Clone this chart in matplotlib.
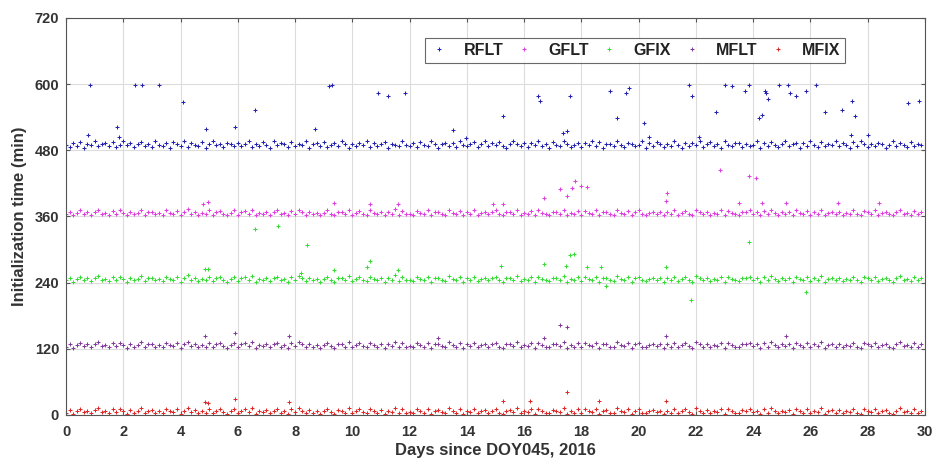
import numpy as np
import matplotlib
matplotlib.use("Agg")
import matplotlib.pyplot as plt

plt.rcParams['font.family'] = ['Liberation Sans', 'DejaVu Sans']

# ---------------- data ----------------
series_names = ["RFLT", "GFLT", "GFIX", "MFLT", "MFIX"]
display_offsets = [480, 360, 240, 120, 0]          # minutes added for display
samples_per_day = 8

# baseline initialisation times (min), RFLT
base_R = [
    10,6,13,8,15,5,11,9,16,7,12,14,8,15,6,10,17,9,13,6,11,15,8,12,
    6,16,10,8,13,4,15,11,7,17,6,13,10,8,15,5,12,16,9,11,6,14,12,8,
    13,7,11,16,6,12,8,15,10,5,17,9,13,11,6,15,8,12,10,16,5,11,13,7,
    15,6,10,13,8,16,11,5,12,7,14,10,17,6,13,8,11,15,5,12,10,7,16,9,
    8,13,6,15,10,7,16,12,5,11,14,8,13,6,17,10,7,12,15,6,11,16,8,13,
    10,15,7,5,12,16,11,8,14,6,13,10,17,7,12,5,15,9,8,16,12,6,10,14,
    6,13,10,16,7,15,5,11,12,8,17,10,6,14,12,7,10,16,5,13,8,15,11,6,
    12,7,16,10,5,14,8,13,10,17,6,11,15,7,12,5,16,10,8,13,14,6,11,7,
    10,16,5,13,8,15,10,6,12,16,7,11,14,5,13,8,17,10,6,15,8,12,10,16,
    7,13,10,5,15,8,16,12,6,11,7,14,12,5,10,16,8,13,10,6,15,7,12,10,
]
# baseline initialisation times (min), GPS / multi-GNSS solutions
base_GM = [
    4,9,2,7,11,5,8,3,9,12,5,7,3,10,5,11,7,2,9,4,7,12,3,8,
    9,4,7,3,11,7,5,10,2,8,13,5,9,3,7,4,11,3,8,10,5,2,7,11,
    3,8,10,5,12,2,7,5,9,3,8,11,4,7,2,10,5,12,8,3,9,4,7,2,
    7,11,5,2,9,8,4,12,3,7,10,5,3,11,7,4,9,2,8,5,13,3,10,4,
    5,3,10,7,4,11,2,8,9,5,3,12,7,4,10,2,8,5,11,3,7,9,4,8,
    11,4,2,8,9,5,12,3,7,5,10,2,11,7,4,3,9,8,5,12,2,7,4,10,
    3,10,7,5,11,2,8,9,4,3,12,7,5,10,2,8,11,4,3,7,9,5,8,2,
    8,4,11,3,7,10,5,2,12,8,4,9,3,7,5,11,2,10,7,4,3,9,8,11,
    5,8,2,10,4,12,7,3,8,5,9,2,11,7,4,10,3,8,5,12,2,7,9,4,
    9,3,7,5,11,4,2,10,8,5,11,3,7,9,4,2,8,12,5,7,3,10,4,8,
]

# outliers (day, displayed minutes)
out_R_day = [0.78, 0.84, 1.78, 1.85, 2.42, 2.65, 3.25, 4.1, 4.9, 5.9, 6.6, 8.7, 9.2, 9.3,
             10.9, 11.25, 11.83, 13.5, 13.97, 15.27, 16.5, 16.55, 17.37, 17.5, 17.6, 19.0,
             19.26, 19.55, 19.65, 20.17, 20.35, 21.77, 21.85, 22.1, 22.7, 23.0, 23.25, 23.7,
             23.86, 24.2, 24.3, 24.4, 24.45, 24.5, 24.9, 25.2, 25.3, 25.5, 25.85, 26.2, 26.5,
             27.1, 27.4, 27.45, 27.56, 28.0, 29.4, 29.8]
out_R_val = [508, 598, 523, 505, 598, 598, 598, 568, 518, 523, 553, 518, 596, 599,
             584, 579, 584, 516, 503, 543, 579, 569, 512, 515, 579, 588,
             538, 584, 593, 529, 505, 599, 579, 505, 549, 599, 596, 588,
             599, 538, 544, 588, 584, 573, 599, 599, 584, 579, 588, 599, 549,
             553, 508, 569, 543, 508, 566, 569]
out_GFLT_day = [4.8, 4.95, 9.35, 10.6, 11.6, 14.9, 15.25, 16.7, 17.25, 17.5, 17.67, 17.76,
                18.0, 18.2, 20.95, 21.0, 22.85, 23.5, 23.85, 24.1, 24.3, 25.15, 26.95, 28.4]
out_GFLT_val = [383, 386, 384, 383, 383, 383, 383, 394, 409, 397, 412, 424,
                415, 414, 388, 403, 444, 384, 433, 429, 384, 384, 384, 384]
out_GFIX_day = [4.85, 4.97, 6.6, 7.4, 8.2, 8.4, 9.35, 10.5, 10.6, 11.6, 15.2, 16.7, 17.45,
                17.6, 17.75, 18.2, 18.67, 18.85, 20.95, 21.83, 23.85, 25.85]
out_GFIX_val = [264, 264, 338, 342, 258, 308, 263, 268, 279, 263, 270, 273, 270,
                291, 292, 269, 269, 234, 269, 209, 313, 223]
out_MFLT_day = [4.85, 5.9, 7.8, 13.0, 16.7, 17.25, 17.5, 20.95, 25.15]
out_MFLT_val = [143, 148, 143, 140, 140, 163, 160, 143, 143]
out_MFIX_day = [4.85, 4.97, 5.9, 7.8, 15.25, 16.2, 17.5, 18.6, 20.95]
out_MFIX_val = [23, 22, 29, 23, 26, 26, 41, 26, 26]

x_ticks = list(range(0, 31, 2))
y_ticks = [0, 120, 240, 360, 480, 600, 720]

# ---------------- plot ----------------
colors = ["#2323b0", "#e040e0", "#35dd35", "#843c9c", "#e02828"]
bases = [base_R, base_GM, base_GM, base_GM, base_GM]
outs = [(out_R_day, out_R_val), (out_GFLT_day, out_GFLT_val), (out_GFIX_day, out_GFIX_val),
        (out_MFLT_day, out_MFLT_val), (out_MFIX_day, out_MFIX_val)]

fig = plt.figure(figsize=(9.35, 4.63), dpi=100)
ax = fig.add_axes([0.0706, 0.1037, 0.9187, 0.8575])

for name, off, base, (od, ov), c in zip(series_names, display_offsets, bases, outs, colors):
    b = np.asarray(base, dtype=float)
    t = np.arange(len(b)) / samples_per_day
    ax.plot(t, b + off, linestyle='none', marker='+', ms=3, mew=0.75, color=c, label=name)
    ax.plot(od, ov, linestyle='none', marker='+', ms=3, mew=0.75, color=c)

ax.set_xlim(0, 30)
ax.set_ylim(0, 720)
ax.set_xticks(x_ticks)
ax.set_yticks(y_ticks)
ax.grid(True, color='#dcdcdc', linewidth=0.8)
ax.set_axisbelow(True)
for s in ax.spines.values():
    s.set_color('#555555')
    s.set_linewidth(0.8)
ax.tick_params(direction='in', length=3, colors='#555555', labelcolor='#333333',
               labelsize=10.5, top=True, right=True)
ax.tick_params(axis='x', pad=7)
ax.tick_params(axis='y', pad=5)
for lab in ax.get_xticklabels() + ax.get_yticklabels():
    lab.set_fontweight('bold')
ax.set_xlabel("Days since DOY045, 2016", fontsize=12, fontweight='bold', color='#333333', labelpad=3)
ax.set_ylabel("Initialization time (min)", fontsize=12, fontweight='bold', color='#333333', labelpad=5)

leg = ax.legend(loc='upper left', bbox_to_anchor=(0.418, 0.884, 0.489, 0.0655), mode='expand',
                ncol=5, frameon=True, fancybox=False, edgecolor='#444444',
                handlelength=1.2, handletextpad=0.9, borderpad=0.3, borderaxespad=0.0,
                columnspacing=1.0, prop={'weight': 'bold', 'size': 11.5})
leg.get_frame().set_linewidth(0.8)
for t in leg.get_texts():
    t.set_color('#222222')

fig.savefig("out.png", dpi=100)
